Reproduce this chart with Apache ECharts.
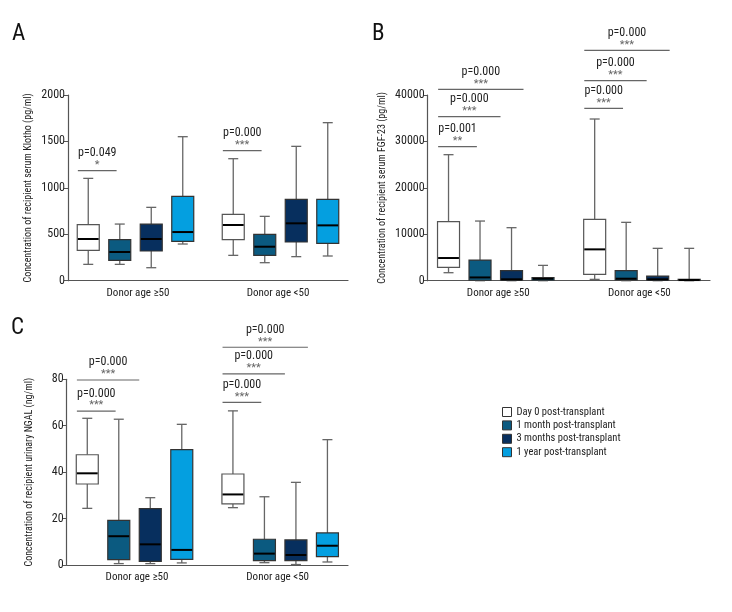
<!DOCTYPE html>
<html>
<head>
<meta charset="utf-8">
<script src="https://cdn.jsdelivr.net/npm/echarts@6/dist/echarts.min.js"></script>
<style>html,body{margin:0;padding:0;background:#fff}#c{width:732px;height:612px}</style>
</head>
<body>
<div id="c"></div>
<script>
// ---------- data ----------
const categories = ['Donor age \u226550', 'Donor age <50'];
const timepoints = ['Day 0 post-transplant', '1 month post-transplant', '3 months post-transplant', '1 year post-transplant'];

// [min, q1, median, q3, max] per category, one array per timepoint
const klothoDay0 = [[176, 327, 449, 603, 1102], [273, 442, 600, 715, 1314]];
const klotho1m   = [[176, 219, 309, 442, 610],  [194, 273, 366, 499, 693]];
const klotho3m   = [[140, 320, 449, 610, 790],  [259, 417, 618, 876, 1447]];
const klotho1y   = [[395, 424, 524, 908, 1551], [266, 402, 596, 876, 1702]];

const fgfDay0 = [[1723, 2872, 4883, 12710, 27145], [287, 1364, 6750, 13213, 34828]];
const fgf1m   = [[0, 100, 700, 4450, 12850], [0, 150, 430, 2150, 12570]];
const fgf3m   = [[0, 100, 300, 2150, 11420], [0, 100, 300, 1000, 6970]];
const fgf1y   = [[0, 100, 400, 650, 3300],   [0, 50, 150, 300, 6970]];

const ngalDay0 = [[24.4, 34.9, 39.5, 47.5, 63.2], [24.7, 26.3, 30.4, 39.2, 66.4]];
const ngal1m   = [[0.6, 2.3, 12.4, 19.2, 62.8],   [1.0, 1.9, 4.9, 11.1, 29.4]];
const ngal3m   = [[0.6, 1.6, 8.9, 24.3, 29.0],    [0.2, 1.9, 4.3, 10.8, 35.6]];
const ngal1y   = [[0.9, 2.4, 6.5, 49.7, 60.6],    [1.3, 3.6, 8.3, 13.8, 54.0]];

// significance brackets: category, compared timepoint index (vs Day 0), level (value units), p text, stars
const klothoSig = [
  [0, 1, 1185, 'p=0.049', '*'],
  [1, 1, 1400, 'p=0.000', '***']
];
const fgfSig = [
  [0, 1, 28860, 'p=0.001', '**'],
  [0, 2, 35330, 'p=0.000', '***'],
  [0, 3, 41230, 'p=0.000', '***'],
  [1, 1, 37140, 'p=0.000', '***'],
  [1, 2, 43080, 'p=0.000', '***'],
  [1, 3, 49630, 'p=0.000', '***']
];
const ngalSig = [
  [0, 1, 66.3, 'p=0.000', '***'],
  [0, 2, 79.7, 'p=0.000', '***'],
  [1, 1, 70.1, 'p=0.000', '***'],
  [1, 2, 82.3, 'p=0.000', '***'],
  [1, 3, 93.8, 'p=0.000', '***']
];

const klothoTicks = {min: 0, max: 2000, interval: 500};
const fgfTicks = {min: 0, max: 40000, interval: 10000};
const ngalTicks = {min: 0, max: 80, interval: 20};

const axisNames = [
  'Concentration of recipient serum Klotho (pg/ml)',
  'Concentration of recipient serum FGF-23 (pg/ml)',
  'Concentration of recipient urinary NGAL (ng/ml)'
];
const panelLetters = ['A', 'B', 'C'];

// ---------- style ----------
const FONT = '"Roboto Condensed", "DejaVu Sans Condensed", sans-serif';
const FS = 12;        // numbers / p-values
const FS_X = 11;      // category labels
const FS_LEG = 10.5;  // legend
const FS_NAME = 10;   // axis titles
const COLORS = ['#ffffff', '#0b5a80', '#072f5e', '#049fe0'];
const BORDERS = ['#555555', '#333333', '#333333', '#333333'];
const WHISK = '#666666';
const SLOT = 31.5, BOXW = 22, CAPW = 10, SHIFT = 2.5;
const END_SLOT = {1: 0.9, 2: 1.65, 3: 2.38};
const START_SLOT = -0.33;

function slotX(api, cat, s) {
  const base = api.coord([cat, 0])[0];
  return base + (cat === 0 ? -SHIFT : SHIFT) + (s - 1.5) * SLOT;
}

function boxRender(k) {
  return function (params, api) {
    const cat = api.value(0);
    const cx = slotX(api, cat, k);
    const y = v => api.coord([cat, v])[1];
    const ymin = y(api.value(1)), yq1 = y(api.value(2)), ymed = y(api.value(3)),
          yq3 = y(api.value(4)), ymax = y(api.value(5));
    const hw = BOXW / 2, cw = CAPW / 2;
    const ws = {stroke: WHISK, lineWidth: 1.3};
    return {
      type: 'group',
      children: [
        {type: 'line', shape: {x1: cx, y1: ymax, x2: cx, y2: yq3}, style: ws},
        {type: 'line', shape: {x1: cx - cw, y1: ymax, x2: cx + cw, y2: ymax}, style: ws},
        {type: 'line', shape: {x1: cx, y1: yq1, x2: cx, y2: ymin}, style: ws},
        {type: 'line', shape: {x1: cx - cw, y1: ymin, x2: cx + cw, y2: ymin}, style: ws},
        {type: 'rect', shape: {x: cx - hw, y: yq3, width: BOXW, height: Math.max(yq1 - yq3, 0.5)},
          style: {fill: COLORS[k], stroke: BORDERS[k], lineWidth: 1.2}},
        {type: 'line', shape: {x1: cx - hw + 0.6, y1: ymed, x2: cx + hw - 0.6, y2: ymed},
          style: {stroke: '#000000', lineWidth: 2}}
      ]
    };
  };
}

function sigRender(sig) {
  return function (params, api) {
    const row = sig[params.dataIndex];
    const cat = row[0], to = row[1];
    const yl = api.coord([cat, row[2]])[1];
    const x1 = slotX(api, cat, START_SLOT), x2 = slotX(api, cat, END_SLOT[to]);
    const mx = (x1 + x2) / 2;
    return {
      type: 'group',
      children: [
        {type: 'line', shape: {x1: x1, y1: yl, x2: x2, y2: yl}, style: {stroke: '#666666', lineWidth: 1.2}},
        {type: 'text', x: mx, y: yl - 17.5, style: {text: row[3], fill: '#222', font: FS + 'px ' + FONT, align: 'center', verticalAlign: 'middle'}},
        {type: 'text', x: mx, y: yl - 5.5, style: {text: row[4], fill: '#666', font: '11px ' + FONT, align: 'center', verticalAlign: 'middle'}}
      ]
    };
  };
}

const panels = [
  {sets: [klothoDay0, klotho1m, klotho3m, klotho1y], sig: klothoSig, ticks: klothoTicks,
    grid: {left: 68, top: 95, width: 280, height: 185.7}, nameGap: 35},
  {sets: [fgfDay0, fgf1m, fgf3m, fgf1y], sig: fgfSig, ticks: fgfTicks,
    grid: {left: 427.7, top: 95, width: 282.3, height: 185.7}, nameGap: 40},
  {sets: [ngalDay0, ngal1m, ngal3m, ngal1y], sig: ngalSig, ticks: ngalTicks,
    grid: {left: 66.7, top: 379.3, width: 281.3, height: 185.7}, nameGap: 32}
];

const grids = [], xAxes = [], yAxes = [], series = [];
panels.forEach((p, gi) => {
  grids.push(Object.assign({containLabel: false}, p.grid));
  xAxes.push({
    type: 'category', gridIndex: gi, data: categories,
    axisLine: {lineStyle: {color: '#555', width: 1.2}},
    axisTick: {alignWithLabel: true, length: 4, lineStyle: {color: '#555'}},
    axisLabel: {color: '#222', fontSize: FS_X, fontFamily: FONT, margin: 7},
    splitLine: {show: false}
  });
  yAxes.push({
    type: 'value', gridIndex: gi, min: p.ticks.min, max: p.ticks.max, interval: p.ticks.interval,
    name: axisNames[gi], nameLocation: 'middle', nameRotate: 90, nameGap: p.nameGap,
    nameTextStyle: {color: '#222', fontSize: FS_NAME, fontFamily: FONT},
    axisLine: {show: true, lineStyle: {color: '#555', width: 1.2}},
    axisTick: {show: true, length: 4, lineStyle: {color: '#555'}},
    axisLabel: {color: '#222', fontSize: FS, fontFamily: FONT, margin: 3, formatter: v => String(v)},
    splitLine: {show: false}
  });
  p.sets.forEach((set, k) => {
    series.push({
      type: 'custom', name: timepoints[k], xAxisIndex: gi, yAxisIndex: gi,
      renderItem: boxRender(k), clip: false,
      itemStyle: {color: COLORS[k], borderColor: '#333', borderWidth: 1},
      encode: {x: 0, y: [1, 2, 3, 4, 5]},
      data: set.map((v, ci) => [ci].concat(v))
    });
  });
  series.push({
    type: 'custom', name: 'sig' + gi, xAxisIndex: gi, yAxisIndex: gi,
    renderItem: sigRender(p.sig), clip: false, silent: true,
    encode: {x: 0, y: 1},
    data: p.sig.map(r => [r[0], r[2]])
  });
});

const chart = echarts.init(document.getElementById('c'), null, {renderer: 'canvas'});
chart.setOption({
  animation: false,
  backgroundColor: '#ffffff',
  grid: grids, xAxis: xAxes, yAxis: yAxes, series: series,
  legend: {
    data: timepoints, orient: 'vertical', left: 502, top: 405.5,
    icon: 'rect', itemWidth: 9, itemHeight: 9, itemGap: 0.4,
    itemStyle: {borderColor: '#333', borderWidth: 1},
    textStyle: {color: '#222', fontSize: FS_LEG, lineHeight: 13, fontFamily: FONT},
    selectedMode: false, padding: 0
  },
  graphic: [
    {type: 'text', left: 12, top: 23, style: {text: panelLetters[0], font: '23px ' + FONT, fill: '#111'}},
    {type: 'text', left: 372, top: 22.5, style: {text: panelLetters[1], font: '23px ' + FONT, fill: '#111'}},
    {type: 'text', left: 11, top: 317, style: {text: panelLetters[2], font: '23px ' + FONT, fill: '#111'}}
  ]
});
</script>
</body>
</html>
